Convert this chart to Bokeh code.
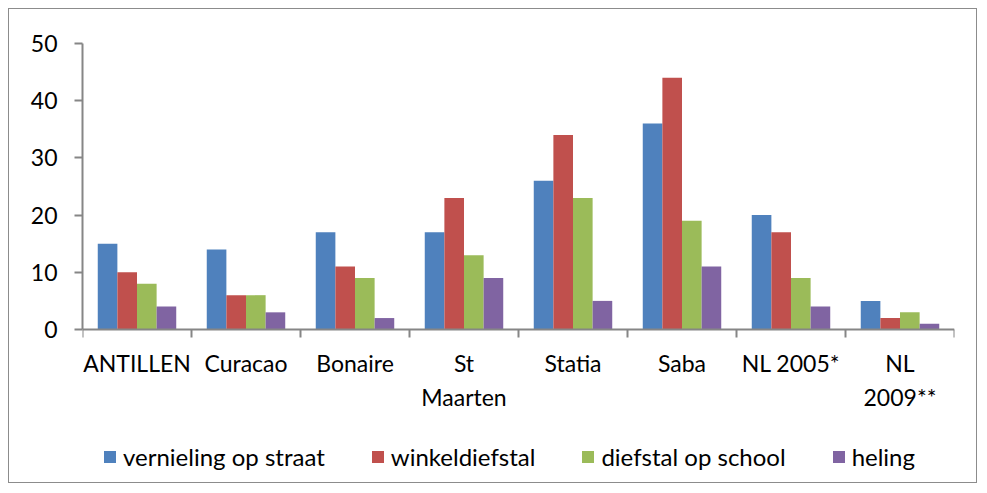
from bokeh.plotting import figure
from bokeh.models import Range1d, FixedTicker, Legend, LegendItem, ColumnDataSource, LinearAxis
from bokeh.embed import file_html
from bokeh.resources import INLINE

categories = ["ANTILLEN", "Curacao", "Bonaire", "St\nMaarten", "Statia", "Saba", "NL 2005*", "NL\n2009**"]
series_names = ["vernieling op straat", "winkeldiefstal", "diefstal op school", "heling"]
vernieling = [15, 14, 17, 17, 26, 36, 20, 5]
winkeldiefstal = [10, 6, 11, 23, 34, 44, 17, 2]
diefstal_school = [8, 6, 9, 13, 23, 19, 9, 3]
heling = [4, 3, 2, 9, 5, 11, 4, 1]
y_ticks = [0, 10, 20, 30, 40, 50]

colors = ["#4F81BD", "#C0504D", "#9BBB59", "#8064A2"]
series = [vernieling, winkeldiefstal, diefstal_school, heling]
offsets = [-0.27, -0.09, 0.09, 0.27]
FONT = "Lato"

n = len(categories)
# frame extends to the bottom of the chart; the category axis sits at y=0
p = figure(width=969, height=475, output_backend="svg", toolbar_location=None,
           x_range=Range1d(0, n), y_range=Range1d(-27.1, 50),
           x_axis_location=None,
           min_border_left=73, min_border_right=24, min_border_top=34, min_border_bottom=0)
p.styles = {"border": "1px solid #8c8c8c", "margin-left": "8px", "margin-top": "8px"}
p.outline_line_color = None
p.xgrid.visible = False
p.ygrid.visible = False
p.background_fill_color = "white"
p.border_fill_color = "white"

centers = [i + 0.5 for i in range(n)]
renderers = []
for vals, col, off in zip(series, colors, offsets):
    src = ColumnDataSource(dict(x=[c + off for c in centers], top=vals))
    r = p.vbar(x="x", top="top", bottom=0, width=0.18, source=src, fill_color=col, line_color=None)
    renderers.append(r)

# x axis at y = 0
xa = LinearAxis(fixed_location=0)
p.add_layout(xa, "below")
xa.ticker = FixedTicker(ticks=centers, minor_ticks=list(range(n + 1)))
xa.major_label_overrides = {c: lab for c, lab in zip(centers, categories)}
xa.major_tick_out = 0
xa.major_tick_in = 0
xa.minor_tick_out = 8
xa.minor_tick_in = 0
xa.minor_tick_line_color = "#868686"
xa.axis_line_color = "#868686"
xa.axis_line_width = 2
xa.minor_tick_line_width = 2
xa.major_label_text_font = FONT
xa.major_label_text_font_size = "23px"
xa.major_label_text_color = "black"
xa.major_label_standoff = 12

ya = p.yaxis[0]
ya.ticker = FixedTicker(ticks=y_ticks)
ya.bounds = (0, 50)
ya.minor_tick_line_color = None
ya.major_tick_out = 8
ya.major_tick_in = 0
ya.major_tick_line_color = "#868686"
ya.axis_line_color = "#868686"
ya.axis_line_width = 2
ya.major_tick_line_width = 2
ya.major_label_text_font = FONT
ya.major_label_text_font_size = "23px"
ya.major_label_text_color = "black"
ya.major_label_standoff = 17

items = [LegendItem(label=nm, renderers=[r]) for nm, r in zip(series_names, renderers)]
legend = Legend(items=items, orientation="horizontal", location=(20, 13),
                label_text_font=FONT, label_text_font_size="24px", label_text_color="black",
                glyph_width=15, glyph_height=15, label_standoff=6, spacing=45,
                border_line_color=None, background_fill_alpha=0, padding=0, margin=0)
p.add_layout(legend, "center")

open("out.html", "w").write(file_html(p, INLINE))
